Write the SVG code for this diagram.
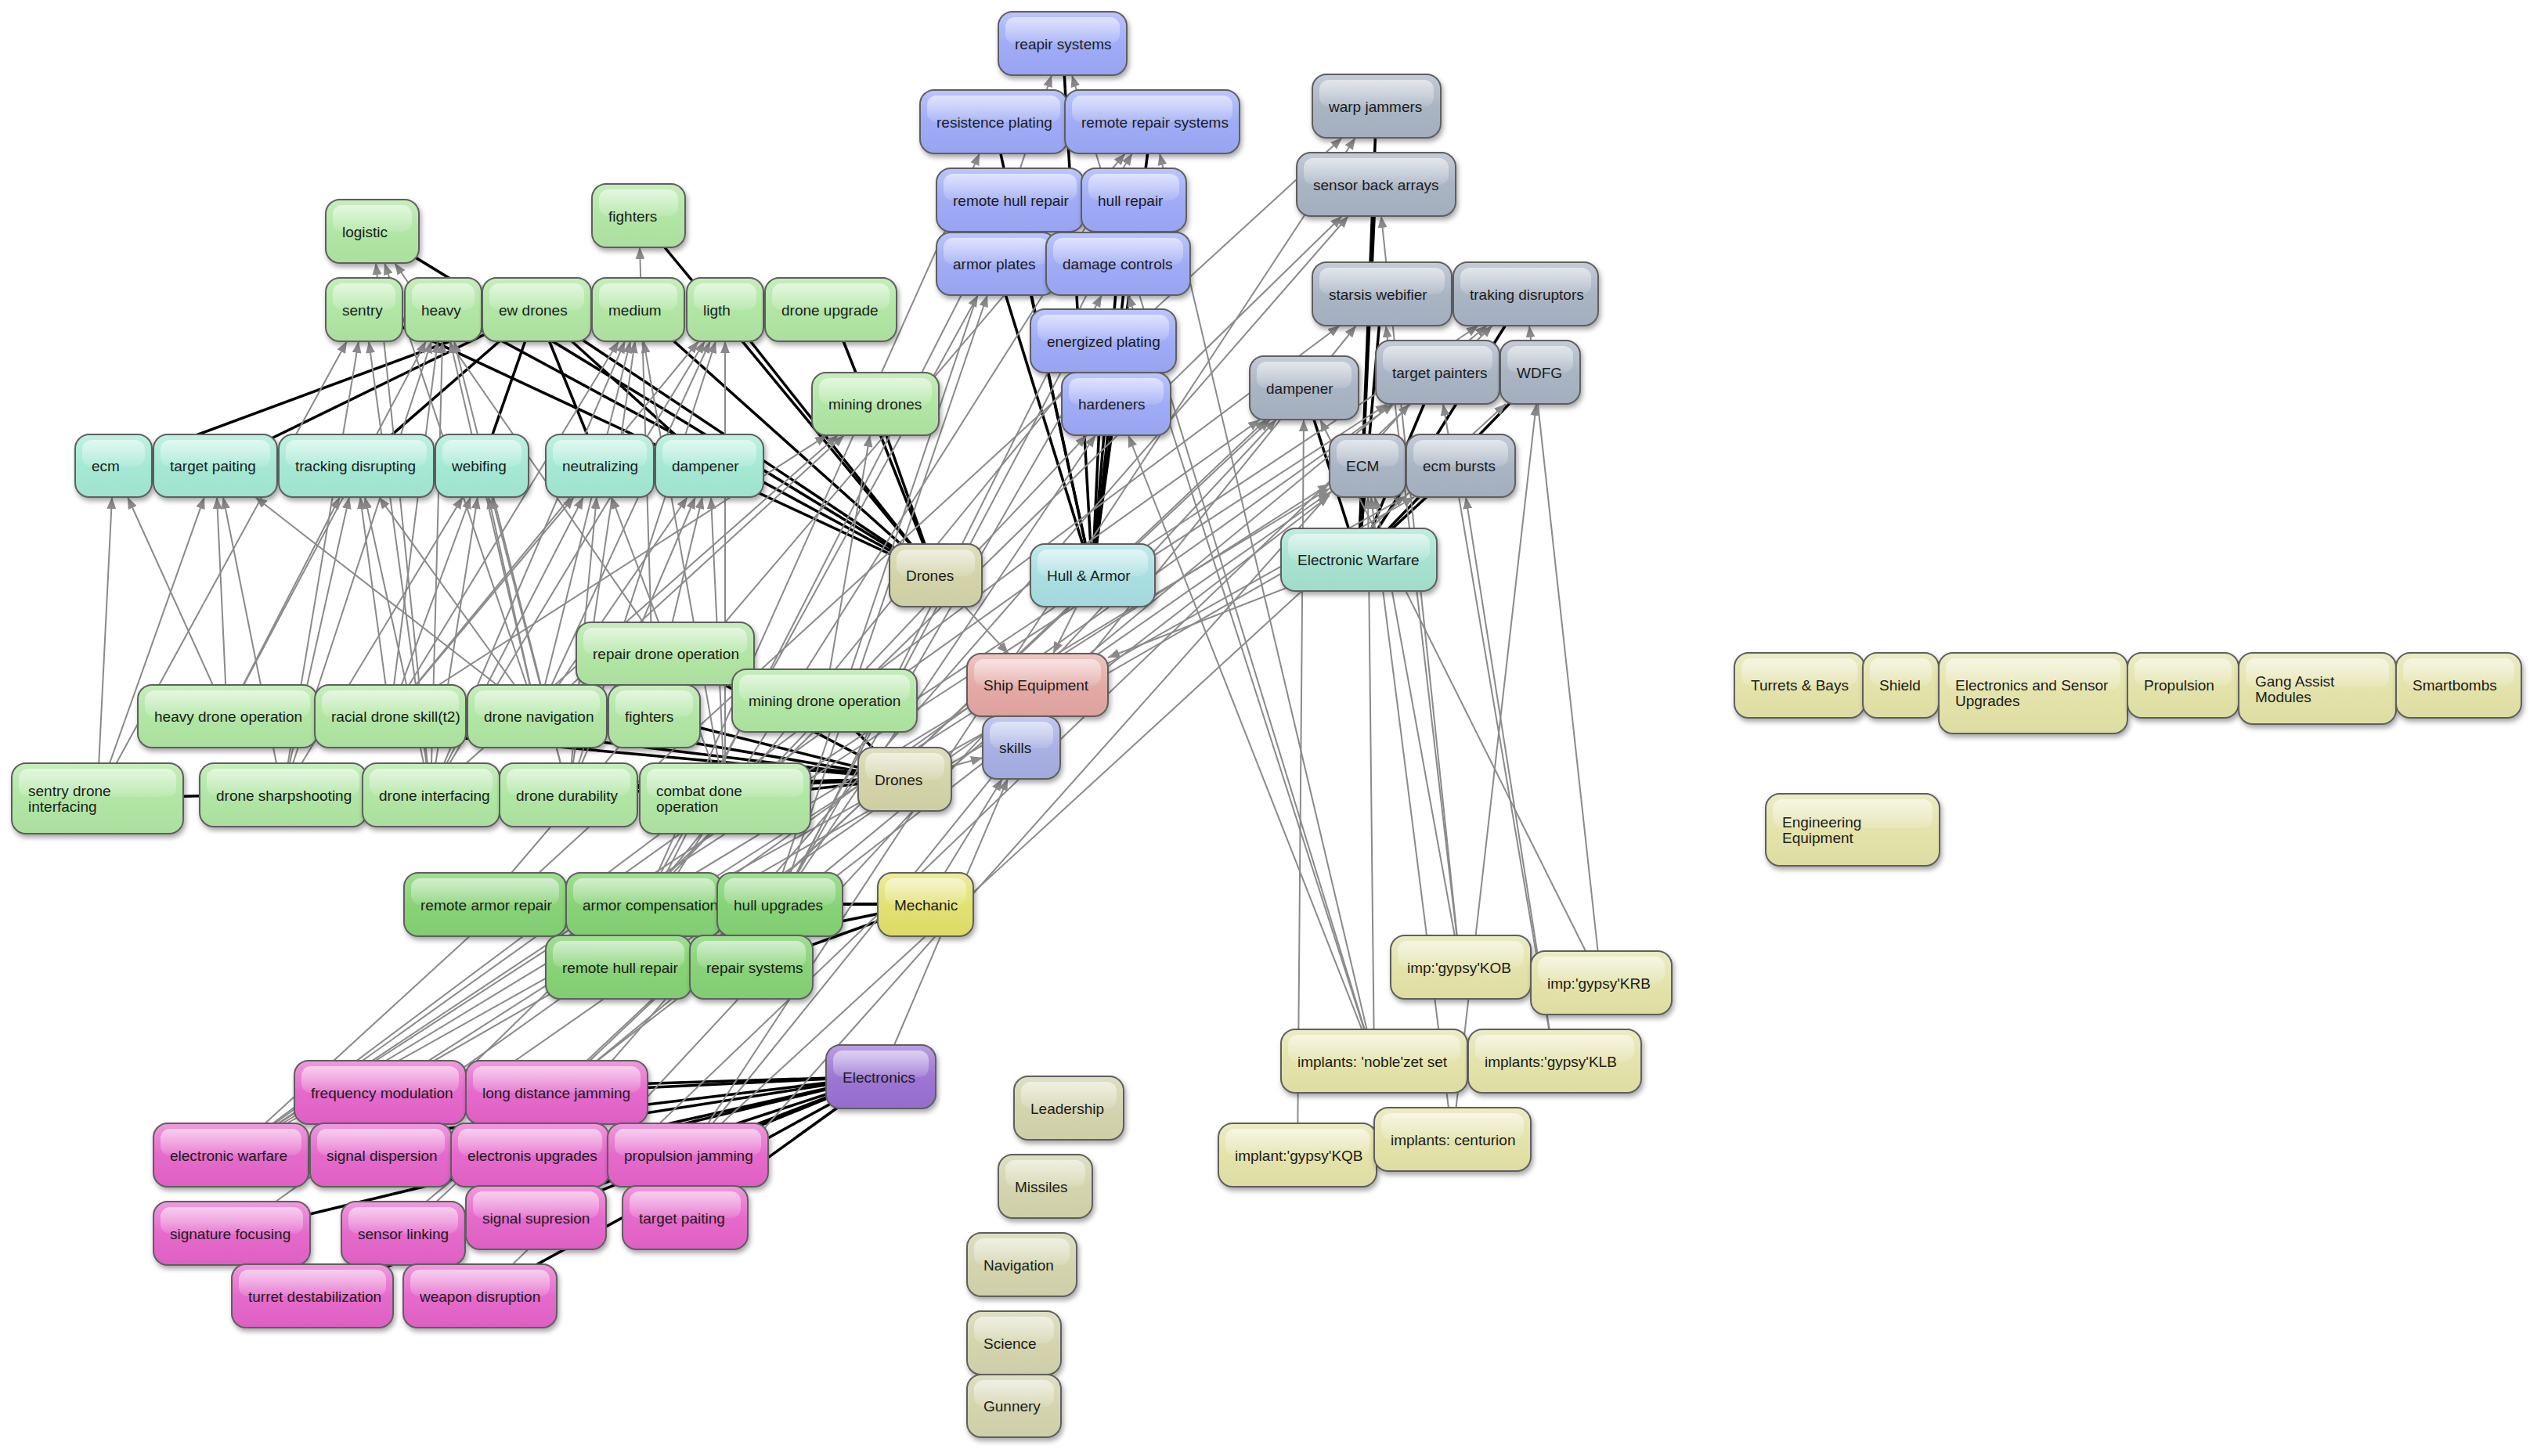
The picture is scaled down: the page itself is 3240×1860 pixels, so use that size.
<svg xmlns="http://www.w3.org/2000/svg" width="3240" height="1860" viewBox="0 0 3240 1860">
<style>
.n .b{stroke:#5f5f5f;stroke-width:2;filter:url(#sh)}
.n .h{fill:url(#gl)}
.n text{font-family:"Liberation Sans",Arial,sans-serif;font-size:19px;fill:#1c1c1c}
.g1 .b{fill:url(#cG1)}
.g2 .b{fill:url(#cG2)}
.t1 .b{fill:url(#cT1)}
.kh .b{fill:url(#cKH)}
.cy .b{fill:url(#cCY)}
.ew .b{fill:url(#cEW)}
.se .b{fill:url(#cSE)}
.sk .b{fill:url(#cSK)}
.me .b{fill:url(#cME)}
.el .b{fill:url(#cEL)}
.mg .b{fill:url(#cMG)}
.bl .b{fill:url(#cBL)}
.gr .b{fill:url(#cGR)}
.im .b{fill:url(#cIM)}
.ot .b{fill:url(#cOT)}
.k{stroke:#000;stroke-width:3.5;fill:none}
.a{stroke:#8a8a8a;stroke-width:2;fill:none;marker-end:url(#ah)}
</style>
<defs>
<filter id="sh" x="-15%" y="-15%" width="135%" height="145%"><feDropShadow dx="2" dy="4" stdDeviation="3" flood-color="#000" flood-opacity="0.35"/></filter>
<linearGradient id="gl" x1="0" y1="0" x2="0" y2="1"><stop offset="0" stop-color="#fff" stop-opacity="0.55"/><stop offset="1" stop-color="#fff" stop-opacity="0.12"/></linearGradient>
<linearGradient id="cG1" x1="0" y1="0" x2="0" y2="1"><stop offset="0" stop-color="#c6eebd"/><stop offset="0.5" stop-color="#b1e6a4"/><stop offset="1" stop-color="#acdf9f"/></linearGradient>
<linearGradient id="cG2" x1="0" y1="0" x2="0" y2="1"><stop offset="0" stop-color="#a2de95"/><stop offset="0.5" stop-color="#88d378"/><stop offset="1" stop-color="#82cc72"/></linearGradient>
<linearGradient id="cT1" x1="0" y1="0" x2="0" y2="1"><stop offset="0" stop-color="#c0f1e2"/><stop offset="0.5" stop-color="#a5e9d4"/><stop offset="1" stop-color="#9fe2cd"/></linearGradient>
<linearGradient id="cKH" x1="0" y1="0" x2="0" y2="1"><stop offset="0" stop-color="#dfdfc0"/><stop offset="0.5" stop-color="#d3d4a9"/><stop offset="1" stop-color="#cdcea2"/></linearGradient>
<linearGradient id="cCY" x1="0" y1="0" x2="0" y2="1"><stop offset="0" stop-color="#c3e9eb"/><stop offset="0.5" stop-color="#aadfe2"/><stop offset="1" stop-color="#a3d9dc"/></linearGradient>
<linearGradient id="cEW" x1="0" y1="0" x2="0" y2="1"><stop offset="0" stop-color="#c0ede0"/><stop offset="0.5" stop-color="#a7e3d0"/><stop offset="1" stop-color="#a0dcc9"/></linearGradient>
<linearGradient id="cSE" x1="0" y1="0" x2="0" y2="1"><stop offset="0" stop-color="#eec6c3"/><stop offset="0.5" stop-color="#e4aaa6"/><stop offset="1" stop-color="#dea29e"/></linearGradient>
<linearGradient id="cSK" x1="0" y1="0" x2="0" y2="1"><stop offset="0" stop-color="#c2c9ee"/><stop offset="0.5" stop-color="#a8b1e2"/><stop offset="1" stop-color="#a1aadc"/></linearGradient>
<linearGradient id="cME" x1="0" y1="0" x2="0" y2="1"><stop offset="0" stop-color="#ecec9e"/><stop offset="0.5" stop-color="#e2e172"/><stop offset="1" stop-color="#dcdb68"/></linearGradient>
<linearGradient id="cEL" x1="0" y1="0" x2="0" y2="1"><stop offset="0" stop-color="#bb9fe3"/><stop offset="0.5" stop-color="#9d76d4"/><stop offset="1" stop-color="#956ccd"/></linearGradient>
<linearGradient id="cMG" x1="0" y1="0" x2="0" y2="1"><stop offset="0" stop-color="#ef9bdd"/><stop offset="0.5" stop-color="#e56acb"/><stop offset="1" stop-color="#de60c3"/></linearGradient>
<linearGradient id="cBL" x1="0" y1="0" x2="0" y2="1"><stop offset="0" stop-color="#bcc5fb"/><stop offset="0.5" stop-color="#a0acf6"/><stop offset="1" stop-color="#98a4f0"/></linearGradient>
<linearGradient id="cGR" x1="0" y1="0" x2="0" y2="1"><stop offset="0" stop-color="#c4ccd7"/><stop offset="0.5" stop-color="#aab5c4"/><stop offset="1" stop-color="#a3aebe"/></linearGradient>
<linearGradient id="cIM" x1="0" y1="0" x2="0" y2="1"><stop offset="0" stop-color="#ececc6"/><stop offset="0.5" stop-color="#e3e3ab"/><stop offset="1" stop-color="#dddda3"/></linearGradient>
<linearGradient id="cOT" x1="0" y1="0" x2="0" y2="1"><stop offset="0" stop-color="#dfdfc3"/><stop offset="0.5" stop-color="#d4d5af"/><stop offset="1" stop-color="#cecfa8"/></linearGradient>
<marker id="ah" markerUnits="userSpaceOnUse" markerWidth="16" markerHeight="12" refX="15" refY="6" orient="auto"><path d="M0,0 L15,6 L0,12 z" fill="#8a8a8a"/></marker>
</defs>
<rect width="3240" height="1860" fill="#fff"/>
<g id="connectors">
<g id="hierarchy">
<path class="k" d="M1195,735 L475,295"/>
<path class="k" d="M1195,735 L815,275"/>
<path class="k" d="M1195,735 L465,395"/>
<path class="k" d="M1195,735 L566,395"/>
<path class="k" d="M1195,735 L685,395"/>
<path class="k" d="M1195,735 L815,395"/>
<path class="k" d="M1195,735 L926,395"/>
<path class="k" d="M1195,735 L1061,395"/>
<path class="k" d="M1195,735 L1118,516"/>
<path class="k" d="M685,395 L145,595"/>
<path class="k" d="M685,395 L275,595"/>
<path class="k" d="M685,395 L455,595"/>
<path class="k" d="M685,395 L615,595"/>
<path class="k" d="M685,395 L766,595"/>
<path class="k" d="M685,395 L906,595"/>
<path class="k" d="M1155,995 L849,835"/>
<path class="k" d="M1155,995 L1053,895"/>
<path class="k" d="M1155,995 L290,915"/>
<path class="k" d="M1155,995 L498,915"/>
<path class="k" d="M1155,995 L686,915"/>
<path class="k" d="M1155,995 L835,915"/>
<path class="k" d="M1155,995 L124,1020"/>
<path class="k" d="M1155,995 L361,1015"/>
<path class="k" d="M1155,995 L550,1015"/>
<path class="k" d="M1155,995 L726,1015"/>
<path class="k" d="M1155,995 L926,1020"/>
<path class="k" d="M1395,735 L1357,55"/>
<path class="k" d="M1395,735 L1269,155"/>
<path class="k" d="M1395,735 L1471,155"/>
<path class="k" d="M1395,735 L1290,255"/>
<path class="k" d="M1395,735 L1448,255"/>
<path class="k" d="M1395,735 L1272,337"/>
<path class="k" d="M1395,735 L1428,337"/>
<path class="k" d="M1395,735 L1409,435"/>
<path class="k" d="M1395,735 L1425,516"/>
<path class="k" d="M1735,715 L1758,135"/>
<path class="k" d="M1735,715 L1757,235"/>
<path class="k" d="M1735,715 L1765,375"/>
<path class="k" d="M1735,715 L1948,375"/>
<path class="k" d="M1735,715 L1665,495"/>
<path class="k" d="M1735,715 L1836,475"/>
<path class="k" d="M1735,715 L1967,475"/>
<path class="k" d="M1735,715 L1746,595"/>
<path class="k" d="M1735,715 L1865,595"/>
<path class="k" d="M1182,1155 L619,1155"/>
<path class="k" d="M1182,1155 L822,1155"/>
<path class="k" d="M1182,1155 L996,1155"/>
<path class="k" d="M1182,1155 L790,1235"/>
<path class="k" d="M1182,1155 L959,1235"/>
<path class="k" d="M1125,1375 L485,1395"/>
<path class="k" d="M1125,1375 L711,1395"/>
<path class="k" d="M1125,1375 L295,1475"/>
<path class="k" d="M1125,1375 L486,1475"/>
<path class="k" d="M1125,1375 L677,1475"/>
<path class="k" d="M1125,1375 L878,1475"/>
<path class="k" d="M1125,1375 L296,1575"/>
<path class="k" d="M1125,1375 L515,1575"/>
<path class="k" d="M1125,1375 L684,1555"/>
<path class="k" d="M1125,1375 L875,1555"/>
<path class="k" d="M1125,1375 L399,1655"/>
<path class="k" d="M1125,1375 L613,1655"/>
</g>
<g id="prerequisites">
<path class="a" d="M1195,735 L1288,835"/>
<path class="a" d="M1395,735 L1345,835"/>
<path class="a" d="M1735,715 L1415,840"/>
<path class="a" d="M1155,995 L1255,968"/>
<path class="a" d="M1182,1155 L1280,995"/>
<path class="a" d="M1125,1375 L1287,995"/>
<path class="a" d="M124,1020 L443,436"/>
<path class="a" d="M361,1015 L458,436"/>
<path class="a" d="M550,1015 L471,436"/>
<path class="a" d="M290,915 L544,436"/>
<path class="a" d="M550,1015 L565,436"/>
<path class="a" d="M686,915 L575,436"/>
<path class="a" d="M726,1015 L580,436"/>
<path class="a" d="M498,915 L559,436"/>
<path class="a" d="M361,1015 L551,436"/>
<path class="a" d="M849,835 L504,336"/>
<path class="a" d="M550,1015 L480,336"/>
<path class="a" d="M686,915 L491,336"/>
<path class="a" d="M835,915 L817,316"/>
<path class="a" d="M550,1015 L798,436"/>
<path class="a" d="M686,915 L805,436"/>
<path class="a" d="M726,1015 L811,436"/>
<path class="a" d="M926,1020 L822,436"/>
<path class="a" d="M498,915 L790,436"/>
<path class="a" d="M550,1015 L900,436"/>
<path class="a" d="M686,915 L907,436"/>
<path class="a" d="M726,1015 L914,436"/>
<path class="a" d="M926,1020 L926,436"/>
<path class="a" d="M498,915 L892,436"/>
<path class="a" d="M1053,895 L1111,556"/>
<path class="a" d="M550,1015 L1070,556"/>
<path class="a" d="M686,915 L1078,556"/>
<path class="a" d="M498,915 L1056,556"/>
<path class="a" d="M290,915 L163,635"/>
<path class="a" d="M124,1020 L143,635"/>
<path class="a" d="M290,915 L277,635"/>
<path class="a" d="M361,1015 L285,635"/>
<path class="a" d="M686,915 L326,635"/>
<path class="a" d="M124,1020 L261,635"/>
<path class="a" d="M498,915 L460,635"/>
<path class="a" d="M361,1015 L446,635"/>
<path class="a" d="M686,915 L484,635"/>
<path class="a" d="M550,1015 L466,635"/>
<path class="a" d="M290,915 L434,635"/>
<path class="a" d="M686,915 L624,635"/>
<path class="a" d="M498,915 L601,635"/>
<path class="a" d="M726,1015 L628,635"/>
<path class="a" d="M550,1015 L610,635"/>
<path class="a" d="M361,1015 L591,635"/>
<path class="a" d="M726,1015 L762,635"/>
<path class="a" d="M926,1020 L781,635"/>
<path class="a" d="M550,1015 L745,635"/>
<path class="a" d="M498,915 L733,635"/>
<path class="a" d="M926,1020 L908,635"/>
<path class="a" d="M686,915 L878,635"/>
<path class="a" d="M849,835 L897,635"/>
<path class="a" d="M726,1015 L888,635"/>
<path class="a" d="M959,1235 L1343,96"/>
<path class="a" d="M1755,1355 L1369,96"/>
<path class="a" d="M822,1155 L1251,196"/>
<path class="a" d="M619,1155 L1437,196"/>
<path class="a" d="M790,1235 L1446,196"/>
<path class="a" d="M1755,1355 L1481,196"/>
<path class="a" d="M790,1235 L1269,296"/>
<path class="a" d="M959,1235 L1428,296"/>
<path class="a" d="M996,1155 L1261,377"/>
<path class="a" d="M822,1155 L1249,377"/>
<path class="a" d="M996,1155 L1407,377"/>
<path class="a" d="M822,1155 L1376,476"/>
<path class="a" d="M996,1155 L1387,476"/>
<path class="a" d="M822,1155 L1388,556"/>
<path class="a" d="M996,1155 L1399,556"/>
<path class="a" d="M1755,1355 L1441,377"/>
<path class="a" d="M1755,1355 L1441,556"/>
<path class="a" d="M295,1475 L1698,624"/>
<path class="a" d="M486,1475 L1698,629"/>
<path class="a" d="M485,1395 L1698,618"/>
<path class="a" d="M711,1395 L1698,633"/>
<path class="a" d="M295,1475 L1796,634"/>
<path class="a" d="M485,1395 L1806,635"/>
<path class="a" d="M515,1575 L1622,536"/>
<path class="a" d="M684,1555 L1630,536"/>
<path class="a" d="M711,1395 L1617,536"/>
<path class="a" d="M295,1475 L1609,536"/>
<path class="a" d="M875,1555 L1800,516"/>
<path class="a" d="M296,1575 L1780,516"/>
<path class="a" d="M295,1475 L1772,516"/>
<path class="a" d="M613,1655 L1906,416"/>
<path class="a" d="M399,1655 L1899,416"/>
<path class="a" d="M295,1475 L1888,416"/>
<path class="a" d="M878,1475 L1732,416"/>
<path class="a" d="M295,1475 L1711,416"/>
<path class="a" d="M878,1475 L1731,176"/>
<path class="a" d="M295,1475 L1714,176"/>
<path class="a" d="M677,1475 L1722,276"/>
<path class="a" d="M486,1475 L1714,276"/>
<path class="a" d="M878,1475 L1923,516"/>
<path class="a" d="M1865,1235 L1756,635"/>
<path class="a" d="M1865,1235 L1770,416"/>
<path class="a" d="M1865,1235 L1764,276"/>
<path class="a" d="M2045,1255 L1686,536"/>
<path class="a" d="M2045,1255 L1953,416"/>
<path class="a" d="M1985,1355 L1843,516"/>
<path class="a" d="M1985,1355 L1872,635"/>
<path class="a" d="M1755,1355 L1747,635"/>
<path class="a" d="M1657,1475 L1665,536"/>
<path class="a" d="M1855,1455 L1751,635"/>
<path class="a" d="M1855,1455 L1962,516"/>
</g>
</g>
<g id="nodes">
<g id="n-logistic" class="n g1"><rect class="b" x="416" y="255" width="119" height="81" rx="18"/><rect class="h" x="425" y="262" width="101" height="34" rx="12"/><text x="437" y="302.5">logistic</text></g>
<g id="n-fighters-type" class="n g1"><rect class="b" x="756" y="235" width="119" height="81" rx="18"/><rect class="h" x="765" y="242" width="101" height="34" rx="12"/><text x="777" y="282.5">fighters</text></g>
<g id="n-sentry" class="n g1"><rect class="b" x="416" y="355" width="98" height="81" rx="18"/><rect class="h" x="425" y="362" width="80" height="34" rx="12"/><text x="437" y="402.5">sentry</text></g>
<g id="n-heavy" class="n g1"><rect class="b" x="517" y="355" width="98" height="81" rx="18"/><rect class="h" x="526" y="362" width="80" height="34" rx="12"/><text x="538" y="402.5">heavy</text></g>
<g id="n-ew-drones" class="n g1"><rect class="b" x="616" y="355" width="139" height="81" rx="18"/><rect class="h" x="625" y="362" width="121" height="34" rx="12"/><text x="637" y="402.5">ew drones</text></g>
<g id="n-medium" class="n g1"><rect class="b" x="756" y="355" width="118" height="81" rx="18"/><rect class="h" x="765" y="362" width="100" height="34" rx="12"/><text x="777" y="402.5">medium</text></g>
<g id="n-ligth" class="n g1"><rect class="b" x="877" y="355" width="98" height="81" rx="18"/><rect class="h" x="886" y="362" width="80" height="34" rx="12"/><text x="898" y="402.5">ligth</text></g>
<g id="n-drone-upgrade" class="n g1"><rect class="b" x="977" y="355" width="168" height="81" rx="18"/><rect class="h" x="986" y="362" width="150" height="34" rx="12"/><text x="998" y="402.5">drone upgrade</text></g>
<g id="n-mining-drones" class="n g1"><rect class="b" x="1037" y="476" width="162" height="80" rx="18"/><rect class="h" x="1046" y="483" width="144" height="34" rx="12"/><text x="1058" y="523">mining drones</text></g>
<g id="n-repair-drone-operation" class="n g1"><rect class="b" x="736" y="795" width="227" height="80" rx="18"/><rect class="h" x="745" y="802" width="209" height="34" rx="12"/><text x="757" y="842">repair drone operation</text></g>
<g id="n-mining-drone-operation" class="n g1"><rect class="b" x="935" y="855" width="236" height="80" rx="18"/><rect class="h" x="944" y="862" width="218" height="34" rx="12"/><text x="956" y="902">mining drone operation</text></g>
<g id="n-heavy-drone-operation" class="n g1"><rect class="b" x="176" y="875" width="229" height="80" rx="18"/><rect class="h" x="185" y="882" width="211" height="34" rx="12"/><text x="197" y="922">heavy drone operation</text></g>
<g id="n-racial-drone-skill" class="n g1"><rect class="b" x="402" y="875" width="193" height="80" rx="18"/><rect class="h" x="411" y="882" width="175" height="34" rx="12"/><text x="423" y="922">racial drone skill(t2)</text></g>
<g id="n-drone-navigation" class="n g1"><rect class="b" x="597" y="875" width="178" height="80" rx="18"/><rect class="h" x="606" y="882" width="160" height="34" rx="12"/><text x="618" y="922">drone navigation</text></g>
<g id="n-fighters-skill" class="n g1"><rect class="b" x="777" y="875" width="117" height="80" rx="18"/><rect class="h" x="786" y="882" width="99" height="34" rx="12"/><text x="798" y="922">fighters</text></g>
<g id="n-sentry-drone-interfacing" class="n g1"><rect class="b" x="15" y="975" width="219" height="90" rx="18"/><rect class="h" x="24" y="982" width="201" height="36" rx="12"/><text x="36" y="1017">sentry drone</text><text x="36" y="1037">interfacing</text></g>
<g id="n-drone-sharpshooting" class="n g1"><rect class="b" x="255" y="975" width="213" height="81" rx="18"/><rect class="h" x="264" y="982" width="195" height="34" rx="12"/><text x="276" y="1022.5">drone sharpshooting</text></g>
<g id="n-drone-interfacing" class="n g1"><rect class="b" x="463" y="975" width="175" height="81" rx="18"/><rect class="h" x="472" y="982" width="157" height="34" rx="12"/><text x="484" y="1022.5">drone interfacing</text></g>
<g id="n-drone-durability" class="n g1"><rect class="b" x="638" y="975" width="176" height="81" rx="18"/><rect class="h" x="647" y="982" width="158" height="34" rx="12"/><text x="659" y="1022.5">drone durability</text></g>
<g id="n-combat-drone-operation" class="n g1"><rect class="b" x="817" y="975" width="218" height="90" rx="18"/><rect class="h" x="826" y="982" width="200" height="36" rx="12"/><text x="838" y="1017">combat done</text><text x="838" y="1037">operation</text></g>
<g id="n-ecm-drone" class="n t1"><rect class="b" x="96" y="555" width="98" height="80" rx="18"/><rect class="h" x="105" y="562" width="80" height="34" rx="12"/><text x="117" y="602">ecm</text></g>
<g id="n-target-paiting-drone" class="n t1"><rect class="b" x="196" y="555" width="158" height="80" rx="18"/><rect class="h" x="205" y="562" width="140" height="34" rx="12"/><text x="217" y="602">target paiting</text></g>
<g id="n-tracking-disrupting" class="n t1"><rect class="b" x="356" y="555" width="198" height="80" rx="18"/><rect class="h" x="365" y="562" width="180" height="34" rx="12"/><text x="377" y="602">tracking disrupting</text></g>
<g id="n-webifing" class="n t1"><rect class="b" x="556" y="555" width="119" height="80" rx="18"/><rect class="h" x="565" y="562" width="101" height="34" rx="12"/><text x="577" y="602">webifing</text></g>
<g id="n-neutralizing" class="n t1"><rect class="b" x="697" y="555" width="138" height="80" rx="18"/><rect class="h" x="706" y="562" width="120" height="34" rx="12"/><text x="718" y="602">neutralizing</text></g>
<g id="n-dampener-drone" class="n t1"><rect class="b" x="837" y="555" width="138" height="80" rx="18"/><rect class="h" x="846" y="562" width="120" height="34" rx="12"/><text x="858" y="602">dampener</text></g>
<g id="n-drones-equipment" class="n kh"><rect class="b" x="1136" y="695" width="118" height="80" rx="18"/><rect class="h" x="1145" y="702" width="100" height="34" rx="12"/><text x="1157" y="742">Drones</text></g>
<g id="n-hull-armor" class="n cy"><rect class="b" x="1316" y="695" width="159" height="80" rx="18"/><rect class="h" x="1325" y="702" width="141" height="34" rx="12"/><text x="1337" y="742">Hull &amp; Armor</text></g>
<g id="n-electronic-warfare" class="n ew"><rect class="b" x="1636" y="675" width="199" height="80" rx="18"/><rect class="h" x="1645" y="682" width="181" height="34" rx="12"/><text x="1657" y="722">Electronic Warfare</text></g>
<g id="n-ship-equipment" class="n se"><rect class="b" x="1235" y="835" width="180" height="80" rx="18"/><rect class="h" x="1244" y="842" width="162" height="34" rx="12"/><text x="1256" y="882">Ship Equipment</text></g>
<g id="n-skills" class="n sk"><rect class="b" x="1255" y="915" width="99" height="80" rx="18"/><rect class="h" x="1264" y="922" width="81" height="34" rx="12"/><text x="1276" y="962">skills</text></g>
<g id="n-drones-skills" class="n kh"><rect class="b" x="1096" y="955" width="119" height="81" rx="18"/><rect class="h" x="1105" y="962" width="101" height="34" rx="12"/><text x="1117" y="1002.5">Drones</text></g>
<g id="n-mechanic" class="n me"><rect class="b" x="1121" y="1115" width="122" height="81" rx="18"/><rect class="h" x="1130" y="1122" width="104" height="34" rx="12"/><text x="1142" y="1162.5">Mechanic</text></g>
<g id="n-electronics" class="n el"><rect class="b" x="1055" y="1335" width="140" height="81" rx="18"/><rect class="h" x="1064" y="1342" width="122" height="34" rx="12"/><text x="1076" y="1382.5">Electronics</text></g>
<g id="n-remote-armor-repair" class="n g2"><rect class="b" x="516" y="1115" width="207" height="81" rx="18"/><rect class="h" x="525" y="1122" width="189" height="34" rx="12"/><text x="537" y="1162.5">remote armor repair</text></g>
<g id="n-armor-compensation" class="n g2"><rect class="b" x="723" y="1115" width="199" height="81" rx="18"/><rect class="h" x="732" y="1122" width="181" height="34" rx="12"/><text x="744" y="1162.5">armor compensation</text></g>
<g id="n-hull-upgrades" class="n g2"><rect class="b" x="916" y="1115" width="160" height="81" rx="18"/><rect class="h" x="925" y="1122" width="142" height="34" rx="12"/><text x="937" y="1162.5">hull upgrades</text></g>
<g id="n-remote-hull-repair-skill" class="n g2"><rect class="b" x="697" y="1195" width="186" height="81" rx="18"/><rect class="h" x="706" y="1202" width="168" height="34" rx="12"/><text x="718" y="1242.5">remote hull repair</text></g>
<g id="n-repair-systems-skill" class="n g2"><rect class="b" x="881" y="1195" width="157" height="81" rx="18"/><rect class="h" x="890" y="1202" width="139" height="34" rx="12"/><text x="902" y="1242.5">repair systems</text></g>
<g id="n-frequency-modulation" class="n mg"><rect class="b" x="376" y="1355" width="219" height="81" rx="18"/><rect class="h" x="385" y="1362" width="201" height="34" rx="12"/><text x="397" y="1402.5">frequency modulation</text></g>
<g id="n-long-distance-jamming" class="n mg"><rect class="b" x="595" y="1355" width="232" height="81" rx="18"/><rect class="h" x="604" y="1362" width="214" height="34" rx="12"/><text x="616" y="1402.5">long distance jamming</text></g>
<g id="n-electronic-warfare-skill" class="n mg"><rect class="b" x="196" y="1435" width="198" height="81" rx="18"/><rect class="h" x="205" y="1442" width="180" height="34" rx="12"/><text x="217" y="1482.5">electronic warfare</text></g>
<g id="n-signal-dispersion" class="n mg"><rect class="b" x="396" y="1435" width="181" height="81" rx="18"/><rect class="h" x="405" y="1442" width="163" height="34" rx="12"/><text x="417" y="1482.5">signal dispersion</text></g>
<g id="n-electronis-upgrades" class="n mg"><rect class="b" x="576" y="1435" width="202" height="81" rx="18"/><rect class="h" x="585" y="1442" width="184" height="34" rx="12"/><text x="597" y="1482.5">electronis upgrades</text></g>
<g id="n-propulsion-jamming" class="n mg"><rect class="b" x="776" y="1435" width="205" height="81" rx="18"/><rect class="h" x="785" y="1442" width="187" height="34" rx="12"/><text x="797" y="1482.5">propulsion jamming</text></g>
<g id="n-signature-focusing" class="n mg"><rect class="b" x="196" y="1535" width="200" height="81" rx="18"/><rect class="h" x="205" y="1542" width="182" height="34" rx="12"/><text x="217" y="1582.5">signature focusing</text></g>
<g id="n-sensor-linking" class="n mg"><rect class="b" x="436" y="1535" width="158" height="81" rx="18"/><rect class="h" x="445" y="1542" width="140" height="34" rx="12"/><text x="457" y="1582.5">sensor linking</text></g>
<g id="n-signal-supresion" class="n mg"><rect class="b" x="595" y="1515" width="179" height="81" rx="18"/><rect class="h" x="604" y="1522" width="161" height="34" rx="12"/><text x="616" y="1562.5">signal supresion</text></g>
<g id="n-target-paiting-skill" class="n mg"><rect class="b" x="795" y="1515" width="160" height="81" rx="18"/><rect class="h" x="804" y="1522" width="142" height="34" rx="12"/><text x="816" y="1562.5">target paiting</text></g>
<g id="n-turret-destabilization" class="n mg"><rect class="b" x="296" y="1615" width="206" height="81" rx="18"/><rect class="h" x="305" y="1622" width="188" height="34" rx="12"/><text x="317" y="1662.5">turret destabilization</text></g>
<g id="n-weapon-disruption" class="n mg"><rect class="b" x="515" y="1615" width="196" height="81" rx="18"/><rect class="h" x="524" y="1622" width="178" height="34" rx="12"/><text x="536" y="1662.5">weapon disruption</text></g>
<g id="n-reapir-systems" class="n bl"><rect class="b" x="1275" y="15" width="164" height="81" rx="18"/><rect class="h" x="1284" y="22" width="146" height="34" rx="12"/><text x="1296" y="62.5">reapir systems</text></g>
<g id="n-resistence-plating" class="n bl"><rect class="b" x="1175" y="115" width="188" height="81" rx="18"/><rect class="h" x="1184" y="122" width="170" height="34" rx="12"/><text x="1196" y="162.5">resistence plating</text></g>
<g id="n-remote-repair-systems" class="n bl"><rect class="b" x="1360" y="115" width="223" height="81" rx="18"/><rect class="h" x="1369" y="122" width="205" height="34" rx="12"/><text x="1381" y="162.5">remote repair systems</text></g>
<g id="n-remote-hull-repair" class="n bl"><rect class="b" x="1196" y="215" width="188" height="81" rx="18"/><rect class="h" x="1205" y="222" width="170" height="34" rx="12"/><text x="1217" y="262.5">remote hull repair</text></g>
<g id="n-hull-repair" class="n bl"><rect class="b" x="1381" y="215" width="134" height="81" rx="18"/><rect class="h" x="1390" y="222" width="116" height="34" rx="12"/><text x="1402" y="262.5">hull repair</text></g>
<g id="n-armor-plates" class="n bl"><rect class="b" x="1196" y="297" width="153" height="80" rx="18"/><rect class="h" x="1205" y="304" width="135" height="34" rx="12"/><text x="1217" y="344">armor plates</text></g>
<g id="n-damage-controls" class="n bl"><rect class="b" x="1336" y="297" width="184" height="80" rx="18"/><rect class="h" x="1345" y="304" width="166" height="34" rx="12"/><text x="1357" y="344">damage controls</text></g>
<g id="n-energized-plating" class="n bl"><rect class="b" x="1316" y="395" width="186" height="81" rx="18"/><rect class="h" x="1325" y="402" width="168" height="34" rx="12"/><text x="1337" y="442.5">energized plating</text></g>
<g id="n-hardeners" class="n bl"><rect class="b" x="1356" y="476" width="139" height="80" rx="18"/><rect class="h" x="1365" y="483" width="121" height="34" rx="12"/><text x="1377" y="523">hardeners</text></g>
<g id="n-warp-jammers" class="n gr"><rect class="b" x="1676" y="95" width="164" height="81" rx="18"/><rect class="h" x="1685" y="102" width="146" height="34" rx="12"/><text x="1697" y="142.5">warp jammers</text></g>
<g id="n-sensor-back-arrays" class="n gr"><rect class="b" x="1656" y="195" width="203" height="81" rx="18"/><rect class="h" x="1665" y="202" width="185" height="34" rx="12"/><text x="1677" y="242.5">sensor back arrays</text></g>
<g id="n-starsis-webifier" class="n gr"><rect class="b" x="1676" y="335" width="178" height="81" rx="18"/><rect class="h" x="1685" y="342" width="160" height="34" rx="12"/><text x="1697" y="382.5">starsis webifier</text></g>
<g id="n-traking-disruptors" class="n gr"><rect class="b" x="1856" y="335" width="185" height="81" rx="18"/><rect class="h" x="1865" y="342" width="167" height="34" rx="12"/><text x="1877" y="382.5">traking disruptors</text></g>
<g id="n-dampener-module" class="n gr"><rect class="b" x="1596" y="455" width="139" height="81" rx="18"/><rect class="h" x="1605" y="462" width="121" height="34" rx="12"/><text x="1617" y="502.5">dampener</text></g>
<g id="n-target-painters" class="n gr"><rect class="b" x="1757" y="435" width="158" height="81" rx="18"/><rect class="h" x="1766" y="442" width="140" height="34" rx="12"/><text x="1778" y="482.5">target painters</text></g>
<g id="n-wdfg" class="n gr"><rect class="b" x="1916" y="435" width="102" height="81" rx="18"/><rect class="h" x="1925" y="442" width="84" height="34" rx="12"/><text x="1937" y="482.5">WDFG</text></g>
<g id="n-ecm-module" class="n gr"><rect class="b" x="1698" y="555" width="97" height="80" rx="18"/><rect class="h" x="1707" y="562" width="79" height="34" rx="12"/><text x="1719" y="602">ECM</text></g>
<g id="n-ecm-bursts" class="n gr"><rect class="b" x="1796" y="555" width="139" height="80" rx="18"/><rect class="h" x="1805" y="562" width="121" height="34" rx="12"/><text x="1817" y="602">ecm bursts</text></g>
<g id="n-imp-kob" class="n im"><rect class="b" x="1776" y="1195" width="179" height="81" rx="18"/><rect class="h" x="1785" y="1202" width="161" height="34" rx="12"/><text x="1797" y="1242.5">imp:'gypsy'KOB</text></g>
<g id="n-imp-krb" class="n im"><rect class="b" x="1955" y="1215" width="180" height="81" rx="18"/><rect class="h" x="1964" y="1222" width="162" height="34" rx="12"/><text x="1976" y="1262.5">imp:'gypsy'KRB</text></g>
<g id="n-imp-noble" class="n im"><rect class="b" x="1636" y="1315" width="238" height="81" rx="18"/><rect class="h" x="1645" y="1322" width="220" height="34" rx="12"/><text x="1657" y="1362.5">implants: 'noble'zet set</text></g>
<g id="n-imp-klb" class="n im"><rect class="b" x="1875" y="1315" width="221" height="81" rx="18"/><rect class="h" x="1884" y="1322" width="203" height="34" rx="12"/><text x="1896" y="1362.5">implants:'gypsy'KLB</text></g>
<g id="n-imp-kqb" class="n im"><rect class="b" x="1556" y="1435" width="202" height="81" rx="18"/><rect class="h" x="1565" y="1442" width="184" height="34" rx="12"/><text x="1577" y="1482.5">implant:'gypsy'KQB</text></g>
<g id="n-imp-centurion" class="n im"><rect class="b" x="1755" y="1415" width="200" height="81" rx="18"/><rect class="h" x="1764" y="1422" width="182" height="34" rx="12"/><text x="1776" y="1462.5">implants: centurion</text></g>
<g id="n-leadership" class="n ot"><rect class="b" x="1295" y="1375" width="140" height="81" rx="18"/><rect class="h" x="1304" y="1382" width="122" height="34" rx="12"/><text x="1316" y="1422.5">Leadership</text></g>
<g id="n-missiles" class="n ot"><rect class="b" x="1275" y="1475" width="120" height="81" rx="18"/><rect class="h" x="1284" y="1482" width="102" height="34" rx="12"/><text x="1296" y="1522.5">Missiles</text></g>
<g id="n-navigation" class="n ot"><rect class="b" x="1235" y="1575" width="140" height="81" rx="18"/><rect class="h" x="1244" y="1582" width="122" height="34" rx="12"/><text x="1256" y="1622.5">Navigation</text></g>
<g id="n-science" class="n ot"><rect class="b" x="1235" y="1675" width="120" height="81" rx="18"/><rect class="h" x="1244" y="1682" width="102" height="34" rx="12"/><text x="1256" y="1722.5">Science</text></g>
<g id="n-gunnery" class="n ot"><rect class="b" x="1235" y="1756" width="120" height="80" rx="18"/><rect class="h" x="1244" y="1763" width="102" height="34" rx="12"/><text x="1256" y="1803">Gunnery</text></g>
<g id="n-turrets-bays" class="n im"><rect class="b" x="2215" y="834" width="166" height="83" rx="18"/><rect class="h" x="2224" y="841" width="148" height="35" rx="12"/><text x="2236" y="882">Turrets &amp; Bays</text></g>
<g id="n-shield" class="n im"><rect class="b" x="2379" y="834" width="97" height="83" rx="18"/><rect class="h" x="2388" y="841" width="79" height="35" rx="12"/><text x="2400" y="882">Shield</text></g>
<g id="n-electronics-sensor" class="n im"><rect class="b" x="2476" y="834" width="241" height="103" rx="18"/><rect class="h" x="2485" y="841" width="223" height="40" rx="12"/><text x="2497" y="882">Electronics and Sensor</text><text x="2497" y="902">Upgrades</text></g>
<g id="n-propulsion" class="n im"><rect class="b" x="2717" y="834" width="142" height="83" rx="18"/><rect class="h" x="2726" y="841" width="124" height="35" rx="12"/><text x="2738" y="882">Propulsion</text></g>
<g id="n-gang-assist" class="n im"><rect class="b" x="2859" y="834" width="201" height="91" rx="18"/><rect class="h" x="2868" y="841" width="183" height="37" rx="12"/><text x="2880" y="877">Gang Assist</text><text x="2880" y="897">Modules</text></g>
<g id="n-smartbombs" class="n im"><rect class="b" x="3060" y="834" width="160" height="83" rx="18"/><rect class="h" x="3069" y="841" width="142" height="35" rx="12"/><text x="3081" y="882">Smartbombs</text></g>
<g id="n-engineering" class="n im"><rect class="b" x="2255" y="1014" width="222" height="92" rx="18"/><rect class="h" x="2264" y="1021" width="204" height="37" rx="12"/><text x="2276" y="1057">Engineering</text><text x="2276" y="1077">Equipment</text></g>
</g>
</svg>
